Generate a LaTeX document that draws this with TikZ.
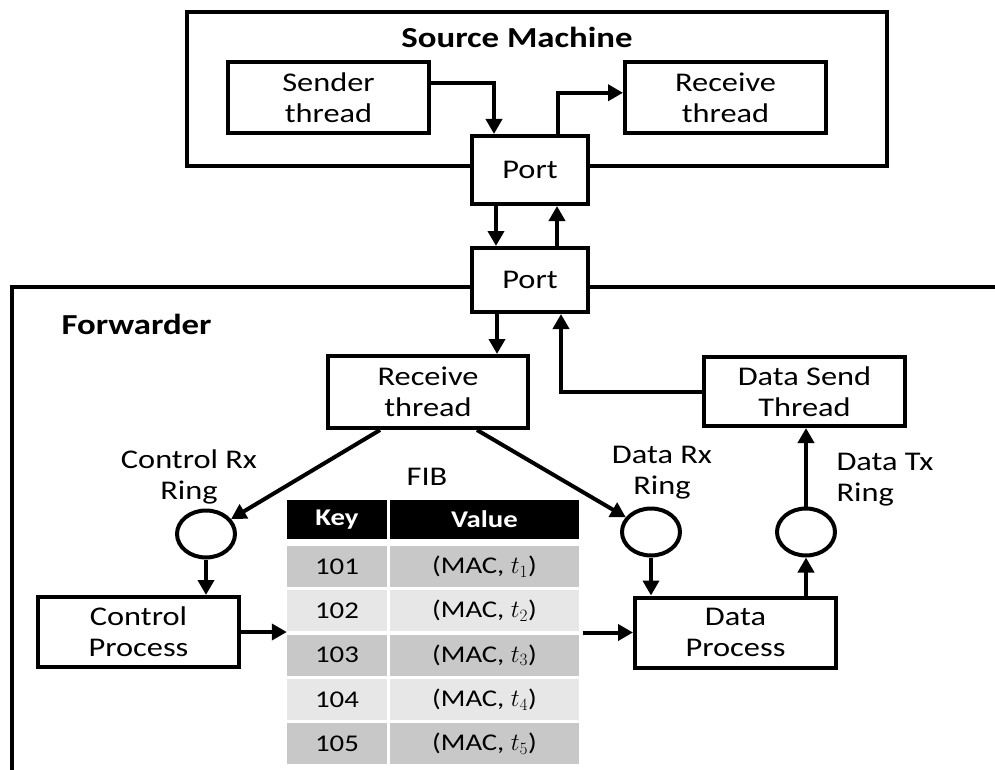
\documentclass[tikz,border=0pt]{standalone}
\usepackage{fontspec}
\setmainfont{Carlito}[FakeStretch=1.2]
\usetikzlibrary{arrows.meta,shapes.geometric,calc}
\definecolor{rowdark}{RGB}{200,200,200}
\definecolor{rowlight}{RGB}{231,231,231}
\begin{document}
\begin{tikzpicture}[x=1pt,y=-1pt,
  every node/.style={font=\fontsize{27}{31}\selectfont},
  box/.style={draw, line width=4pt, fill=white, inner sep=0pt, align=center,
    minimum width=201pt, minimum height=70pt},
  portbox/.style={draw, line width=4pt, fill=white, inner sep=0pt,
    minimum width=116pt, minimum height=66pt},
  ring/.style={draw, ellipse, line width=4pt, minimum width=58pt,
    minimum height=47pt, inner sep=0pt},
  arr/.style={line width=4pt, -{Triangle[length=15pt,width=16pt]}},
  frame/.style={line width=4pt, line join=miter},
  heading/.style={font=\fontsize{29}{33}\selectfont\bfseries},
  cell/.style={inner sep=0pt, minimum height=41pt, font=\fontsize{24}{28}\selectfont},
  headcell/.style={cell, fill=black, text=white, minimum height=39pt,
    font=\fontsize{24}{28}\selectfont\bfseries},
]
\useasboundingbox (0,0) rectangle (995,770);

% machine outlines
\draw[frame] (187,12) rectangle (887,166);
\draw[frame] (12,770) -- (12,287) -- (995,287);

\node[heading] (srctitle) at (517,37) {Source Machine};
\node[heading, anchor=west] (fwdtitle) at (58,324) {Forwarder};

% source machine
\node[box, minimum height=71pt] (sender) at (328.5,97.5) {Sender\\thread};
\node[box, minimum height=71pt] (srcrecv) at (725.5,97.5) {Receive\\thread};
\node[portbox, minimum height=68pt] (port1) at (530,170) {Port};
\node[portbox, minimum height=64pt] (port2) at (530,280) {Port};

% forwarder
\node[box, minimum width=200pt, minimum height=72pt] (fwdrecv) at (428,392) {Receive\\thread};
\node[box, minimum height=69pt] (sendth) at (804.5,391.5) {Data Send\\Thread};
\node[ring] (ctrlring) at (206,534) {};
\node[ring] (datarx) at (651,532) {};
\node[ring] (datatx) at (806,532) {};
\node[box] (ctrlproc) at (138.5,632) {Control\\Process};
\node[box] (dataproc) at (735.5,632.5) {Data\\Process};

\node[align=center] (crxlbl) at (189,477) {Control Rx\\Ring};
\node[align=center] (drxlbl) at (662,473) {Data Rx\\Ring};
\node[align=left, anchor=west] (dtxlbl) at (833,480) {Data Tx\\Ring};
\node (fiblbl) at (427,477) {FIB};

% FIB table
\node[headcell, minimum width=100pt] (hkey) at (337,519.5) {Key};
\node[headcell, minimum width=189pt] (hval) at (484.5,519.5) {Value};
\foreach \i in {1,...,5} {
  \pgfmathsetmacro{\rowy}{546+44.3*(\i-1)+20.5}
  \ifodd\i \def\rowcol{rowdark}\else \def\rowcol{rowlight}\fi
  \node[cell, fill=\rowcol, minimum width=100pt] (k\i) at (337,\rowy) {10\i};
  \node[cell, fill=\rowcol, minimum width=189pt] (v\i) at (484.5,\rowy) {(MAC, $t_{\i}$)};
}

% connectors in the source machine
\draw[arr] ($(sender.north east)!0.31!(sender.south east)$)
  -| ($(port1.north west)!0.2!(port1.north east)$);
\draw[arr] ($(port1.north west)!0.733!(port1.north east)$)
  |- ($(srcrecv.north west)!0.437!(srcrecv.south west)$);

% links between the two ports
\coordinate (pdown) at ([xshift=-34pt]port1.south);
\coordinate (pup) at ([xshift=27pt]port2.north);
\draw[arr] (pdown) -- (pdown |- port2.north);
\draw[arr] (pup) -- (pup |- port1.south);

% forwarder connectors
\coordinate (fdown) at ([xshift=-33pt]port2.south);
\coordinate (fup) at ([xshift=31pt]port2.south);
\draw[arr] (fdown) -- (fdown |- fwdrecv.north);
\draw[arr] (sendth.west) -| (fup);
\draw[arr] ([xshift=-48pt]fwdrecv.south) -- (ctrlring);
\draw[arr] ([xshift=49pt]fwdrecv.south) -- (datarx);
\draw[arr] (ctrlring.south) -- (ctrlring.south |- ctrlproc.north);
\draw[arr] (ctrlproc.east) -- (ctrlproc.east -| hkey.west);
\draw[arr, shorten <=4pt] (dataproc.west -| hval.east) -- (dataproc.west);
\draw[arr] (datarx.south) -- (datarx.south |- dataproc.north);
\draw[arr] (datatx.south |- dataproc.north) -- (datatx.south);
\draw[arr] (datatx.north) -- (datatx.north |- sendth.south);
\end{tikzpicture}
\end{document}
